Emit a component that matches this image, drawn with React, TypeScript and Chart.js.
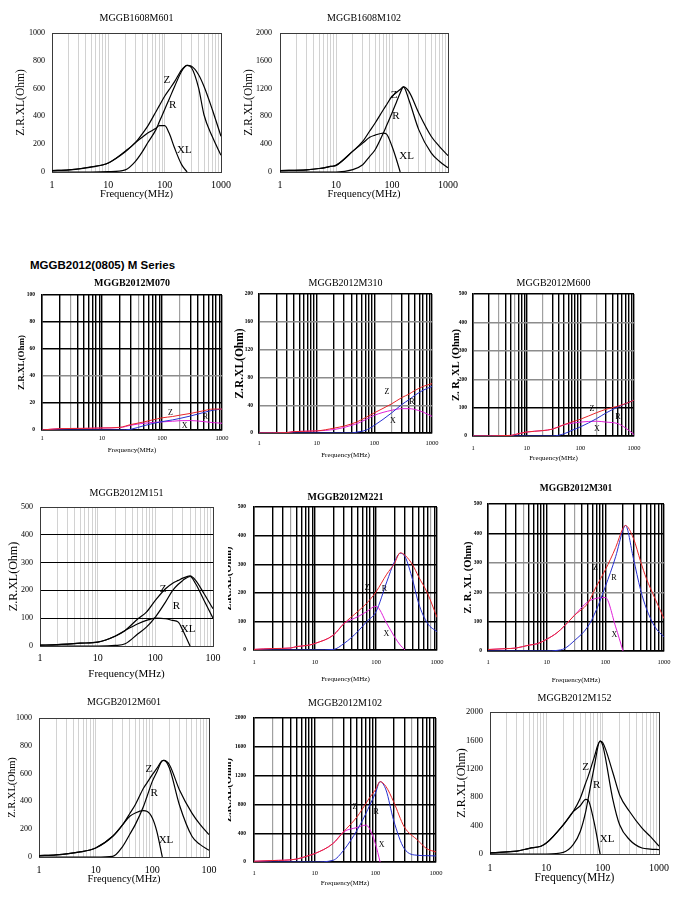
import React, { useEffect, useRef } from 'react';
import { Chart, registerables } from 'chart.js';

Chart.register(...registerables);

const SERIF = '"Liberation Serif", "Times New Roman", serif';
const SANS = '"Liberation Sans", Arial, sans-serif';

// ---------- shared axis values ----------
const X_GRID_VALUES = [1, 2, 3, 4, 5, 6, 7, 8, 9, 10, 20, 30, 40, 50, 60, 70, 80, 90, 100, 200, 300, 400, 500, 600, 700, 800, 900, 1000];
const X_DECADES = [1, 10, 100, 1000];
const X_LABELS = ['1', '10', '100', '1000'];
const X_LABELS_TRUNC = ['1', '10', '100', '100'];

// ---------- MGGB1608M601 ----------
const f_1608M601 = [1, 2, 5, 10, 20, 30, 40, 50, 70, 80, 100, 120, 150, 200, 250, 300, 400, 500, 700, 1000];
const z_1608M601 = [10, 15, 38, 65, 150, 210, 275, 330, 434, 476, 545, 592, 650, 735, 767, 760, 700, 615, 450, 257];
const r_1608M601 = [0, 0, 0, 2, 15, 75, 145, 210, 305, 359, 450, 524, 615, 725, 767, 750, 605, 410, 255, 120];
const xl_1608M601 = [10, 15, 35, 65, 145, 210, 250, 280, 315, 333, 333, 280, 172, 53, 0, null, null, null, null, null];
const y_1608M601 = [0, 200, 400, 600, 800, 1000];
const tag_1608M601: [string, number, number][] = [['Z', 109, 664], ['R', 139, 484], ['XL', 224, 156]];

// ---------- MGGB1608M102 ----------
const f_1608M102 = [1, 3, 5, 8, 10, 20, 30, 40, 50, 70, 80, 100, 120, 140, 160, 200, 300, 500, 700, 1000];
const z_1608M102 = [20, 30, 50, 80, 95, 300, 440, 590, 705, 895, 968, 1090, 1143, 1187, 1225, 1160, 850, 515, 370, 235];
const r_1608M102 = [0, 0, 0, 0, 0, 35, 105, 225, 320, 560, 668, 850, 1005, 1136, 1225, 1040, 610, 275, 155, 60];
const xl_1608M102 = [20, 30, 50, 80, 95, 300, 415, 500, 530, 560, 545, 370, 180, 0, null, null, null, null, null, null];
const y_1608M102 = [0, 400, 800, 1200, 1600, 2000];
const tag_1608M102: [string, number, number][] = [['Z', 109, 1113], ['R', 117, 801], ['XL', 182, 235]];

// ---------- MGGB2012M070 ----------
const f_M070 = [1, 2, 5, 10, 20, 30, 50, 70, 100, 150, 200, 300, 500, 700, 1000];
const z_M070 = [0, 1, 1.2, 1.5, 2, 4, 6, 7.5, 9, 10, 11, 12.3, 14.3, 15.5, 15.5];
const r_M070 = [0, 0, 0, 0, 0, 0.5, 3.2, 4.8, 6.2, 7.5, 8.6, 10.4, 13, 14.6, 15.5];
const xl_M070 = [0, 1, 1.2, 1.5, 1.8, 3.5, 5, 5.6, 6, 6.5, 6.9, 7, 6.2, 5.5, 5];
const y_M070 = [0, 20, 40, 60, 80, 100];
const tag_M070: [string, number, number][] = [['Z', 138, 12.3], ['X', 238, 3.2], ['R', 527, 9.4]];

// ---------- MGGB2012M310 ----------
const f_M310 = [1, 3, 4, 10, 20, 30, 40, 50, 70, 100, 200, 300, 400, 500, 700, 1000];
const z_M310 = [0, 0.5, 2, 3, 7, 10, 13, 16, 22, 29, 42, 51, 56, 61, 67, 71];
const r_M310 = [0, 0, 0, 0, 0, 0, 0, 1.4, 3.8, 11, 29, 41, 48, 54, 61.5, 67];
const xl_M310 = [0, 0.5, 2, 3, 5, 8, 11, 13.5, 19, 25.5, 32.7, 35, 35, 34, 30, 24];
const y_M310 = [0, 40, 80, 120, 160, 200];
const tag_M310: [string, number, number][] = [['Z', 165, 59], ['R', 450, 44.7], ['X', 210, 16.8]];

// ---------- MGGB2012M600 ----------
const f_M600 = [1, 5, 6, 10, 20, 30, 50, 70, 100, 200, 300, 500, 700, 1000];
const z_M600 = [0, 2, 5, 14, 19, 24, 40, 50, 59, 82, 94, 105, 114, 126];
const r_M600 = [0, 0, 0, 0, 0, 0, 8, 20, 32, 61, 81, 102, 114, 126];
const xl_M600 = [0, 2, 5, 14, 19, 24, 40, 45, 49, 52, 49, 43.5, 28, 5];
const y_M600 = [0, 100, 200, 300, 400, 500];
const tag_M600: [string, number, number][] = [['Z', 164, 96], ['R', 500, 67], ['X', 203, 23.5]];

// ---------- MGGB2012M151 ----------
const f_M151 = [1, 2, 3, 5, 10, 20, 30, 50, 70, 100, 150, 200, 250, 300, 400, 500, 700, 1000];
const z_M151 = [3, 5, 7, 10, 14, 35, 56, 98, 122, 164, 206, 226, 236, 244, 252, 236, 188, 134];
const r_M151 = [0, 0, 0, 0, 0, 2, 8, 44, 68, 104, 158, 200, 222, 236, 250, 224, 164, 100];
const xl_M151 = [3, 5, 7, 10, 14, 35, 56, 80, 92, 100, 98, 92, 86, 56, 0, null, null, null];
const y_M151 = [0, 100, 200, 300, 400, 500];
const tag_M151: [string, number, number][] = [['Z', 136, 203], ['R', 232, 144], ['XL', 370, 62]];

// ---------- MGGB2012M221 ----------
const f_M221 = [1, 2, 4, 5, 8, 10, 20, 30, 50, 70, 100, 150, 200, 250, 300, 400, 500, 700, 1000];
const z_M221 = [2, 5, 7, 12, 17, 23, 52, 93, 134, 163, 203, 265, 302, 340, 331, 297, 256, 198, 114];
const r_M221 = [0, 0, 0, 0, 0, 0, 2, 23, 64, 99, 134, 238, 308, 338, 326, 244, 163, 93, 64];
const xl_M221 = [2, 5, 7, 12, 17, 23, 52, 93, 116, 134, 153, 93, 47, 17, 0, null, null, null, null];
const y_M221 = [0, 100, 200, 300, 400, 500];
const tag_M221: [string, number, number][] = [['Z', 72, 217], ['R', 138, 215], ['X', 148, 56]];

// ---------- MGGB2012M301 ----------
const f_M301 = [1, 2, 3, 5, 7, 10, 15, 20, 30, 50, 70, 100, 150, 200, 220, 300, 400, 500, 700, 1000];
const z_M301 = [5, 8, 10, 20, 25, 40, 62, 85, 122, 162, 219, 276, 352, 418, 427, 384, 304, 247, 179, 110];
const r_M301 = [0, 0, 0, 0, 0, 0, 2, 8, 36, 82, 139, 219, 321, 412, 427, 316, 207, 145, 82, 48];
const xl_M301 = [5, 8, 10, 20, 25, 40, 62, 85, 122, 167, 179, 182, 82, 0, null, null, null, null, null, null];
const y_M301 = [0, 100, 200, 300, 400, 500];
const tag_M301: [string, number, number][] = [['Z', 68, 284], ['R', 140, 249], ['X', 143, 54]];

// ---------- MGGB2012M601 ----------
const f_M601 = [1, 2, 5, 10, 20, 30, 40, 50, 70, 80, 100, 120, 150, 160, 200, 300, 500, 700, 1000];
const z_M601 = [10, 15, 35, 65, 149, 233, 313, 376, 496, 532, 592, 637, 693, 695, 664, 484, 316, 233, 161];
const r_M601 = [0, 0, 0, 0, 5, 77, 164, 233, 365, 432, 544, 611, 693, 695, 640, 376, 149, 89, 48];
const xl_M601 = [10, 15, 35, 65, 149, 233, 293, 317, 333, 329, 281, 185, 0, null, null, null, null, null, null];
const y_M601 = [0, 200, 400, 600, 800, 1000];
const tag_M601: [string, number, number][] = [['Z', 87, 635], ['R', 108, 460], ['XL', 174, 125]];

// ---------- MGGB2012M102 ----------
const f_M102 = [1, 2, 5, 8, 10, 20, 30, 50, 70, 80, 100, 120, 150, 200, 300, 500, 700, 1000];
const z_M102 = [10, 20, 40, 90, 116, 256, 420, 628, 814, 890, 1000, 1116, 1047, 837, 488, 302, 186, 140];
const r_M102 = [0, 0, 0, 0, 0, 23, 163, 442, 674, 780, 953, 1116, 1000, 581, 186, 93, 88, 84];
const xl_M102 = [10, 20, 40, 90, 116, 256, 418, 479, 512, 465, 256, 0, null, null, null, null, null, null];
const y_M102 = [0, 400, 800, 1200, 1600, 2000];
const tag_M102: [string, number, number][] = [['Z', 46, 767], ['R', 103, 698], ['X', 127, 242]];

// ---------- MGGB2012M152 ----------
const f_M152 = [1, 2, 3, 5, 8, 10, 20, 30, 40, 50, 55, 70, 90, 100, 150, 200, 300, 500, 700, 1000];
const z_M152 = [15, 30, 40, 80, 110, 154, 411, 598, 785, 1000, 1090, 1350, 1589, 1570, 1159, 832, 598, 364, 248, 110];
const r_M152 = [0, 0, 0, 0, 0, 0, 23, 131, 318, 598, 770, 1206, 1589, 1533, 785, 411, 201, 84, 70, 61];
const xl_M152 = [15, 30, 40, 80, 110, 154, 411, 598, 680, 770, 760, 458, 0, null, null, null, null, null, null, null];
const y_M152 = [0, 400, 800, 1200, 1600, 2000];
const tag_M152: [string, number, number][] = [['Z', 50, 1229], ['R', 78, 972], ['XL', 120, 215]];

// ---------- styles ----------
type Fonts = {
  title: number; titleBold: boolean; yTick: number; yTickBold: boolean; xTick: number;
  yTitle: number; yTitleBold: boolean; xTitle: number; tag: number;
};
const MONO_FONTS: Fonts = { title: 10, titleBold: false, yTick: 8, yTickBold: false, xTick: 10, yTitle: 11.5, yTitleBold: false, xTitle: 10.5, tag: 11 };
const COLOR_FONTS: Fonts = { title: 10, titleBold: false, yTick: 5.5, yTickBold: true, xTick: 6.5, yTitle: 10.5, yTitleBold: true, xTitle: 7, tag: 8 };

type Spec = {
  title: string;
  box: [number, number, number, number];
  plot: [number, number, number, number];
  titleY: number; yTitleX: number; xTickY: number; xTitleY: number; yTickPad: number;
  colored: boolean;
  freq: number[]; z: (number | null)[]; r: (number | null)[]; xl: (number | null)[];
  yTicks: number[]; xLabels: string[]; tags: [string, number, number][];
  hLines: boolean; hGray: number[]; vGray: number[];
  yTitle: string; fonts: Fonts;
};

const SPECS: Spec[] = [
  { title: 'MGGB1608M601', box: [8, 6, 226, 200], plot: [52, 33, 221, 172], titleY: 18, yTitleX: 21, xTickY: 185, xTitleY: 194, yTickPad: 7,
    colored: false, freq: f_1608M601, z: z_1608M601, r: r_1608M601, xl: xl_1608M601, yTicks: y_1608M601, xLabels: X_LABELS, tags: tag_1608M601,
    hLines: false, hGray: [], vGray: [], yTitle: 'Z.R.XL(Ohm)', fonts: MONO_FONTS },
  { title: 'MGGB1608M102', box: [236, 6, 226, 200], plot: [280, 33, 448, 172], titleY: 18, yTitleX: 249, xTickY: 185, xTitleY: 194, yTickPad: 8,
    colored: false, freq: f_1608M102, z: z_1608M102, r: r_1608M102, xl: xl_1608M102, yTicks: y_1608M102, xLabels: X_LABELS, tags: tag_1608M102,
    hLines: false, hGray: [], vGray: [], yTitle: 'Z.R.XL(Ohm)', fonts: MONO_FONTS },
  { title: 'MGGB2012M070', box: [10, 272, 222, 188], plot: [42, 295, 222, 430], titleY: 283, yTitleX: 22, xTickY: 438, xTitleY: 450, yTickPad: 7,
    colored: true, freq: f_M070, z: z_M070, r: r_M070, xl: xl_M070, yTicks: y_M070, xLabels: X_LABELS, tags: tag_M070,
    hLines: true, hGray: [40], vGray: [3, 40, 200], yTitle: 'Z.R.XL(Ohm)', fonts: { ...COLOR_FONTS, yTitle: 9, titleBold: true } },
  { title: 'MGGB2012M310', box: [230, 272, 215, 192], plot: [259, 294, 432, 433], titleY: 283, yTitleX: 240, xTickY: 443, xTitleY: 455, yTickPad: 6,
    colored: true, freq: f_M310, z: z_M310, r: r_M310, xl: xl_M310, yTicks: y_M310, xLabels: X_LABELS, tags: tag_M310,
    hLines: true, hGray: [40, 80, 120, 160], vGray: [200], yTitle: 'Z.R.XL(Ohm)', fonts: { ...COLOR_FONTS, yTitle: 11.5 } },
  { title: 'MGGB2012M600', box: [447, 272, 201, 194], plot: [473, 294, 634, 436], titleY: 283, yTitleX: 456, xTickY: 448, xTitleY: 458, yTickPad: 6,
    colored: true, freq: f_M600, z: z_M600, r: r_M600, xl: xl_M600, yTicks: y_M600, xLabels: X_LABELS, tags: tag_M600,
    hLines: true, hGray: [200, 300, 400], vGray: [3, 6, 20, 200], yTitle: 'Z. R. XL (Ohm)', fonts: { ...COLOR_FONTS, yTitle: 10.5 } },
  { title: 'MGGB2012M151', box: [2, 482, 223, 204], plot: [40, 507, 213, 646], titleY: 493, yTitleX: 14, xTickY: 658, xTitleY: 674, yTickPad: 7,
    colored: false, freq: f_M151, z: z_M151, r: r_M151, xl: xl_M151, yTicks: y_M151, xLabels: X_LABELS_TRUNC, tags: tag_M151,
    hLines: true, hGray: [], vGray: [], yTitle: 'Z.R.XL(Ohm)', fonts: { ...MONO_FONTS, yTitle: 12, xTitle: 11 } },
  { title: 'MGGB2012M221', box: [228, 486, 222, 206], plot: [254, 507, 437, 650], titleY: 497, yTitleX: 228.5, xTickY: 662, xTitleY: 679, yTickPad: 8,
    colored: true, freq: f_M221, z: z_M221, r: r_M221, xl: xl_M221, yTicks: y_M221, xLabels: X_LABELS, tags: tag_M221,
    hLines: true, hGray: [], vGray: [4, 800], yTitle: 'Z.R.XL(Ohm)', fonts: { ...COLOR_FONTS, titleBold: true, title: 10 } },
  { title: 'MGGB2012M301', box: [455, 478, 221, 214], plot: [488, 504, 664, 651], titleY: 489, yTitleX: 468, xTickY: 662, xTitleY: 680, yTickPad: 6,
    colored: true, freq: f_M301, z: z_M301, r: r_M301, xl: xl_M301, yTicks: y_M301, xLabels: X_LABELS, tags: tag_M301,
    hLines: true, hGray: [200, 300], vGray: [4, 30], yTitle: 'Z. R. XL (Ohm)', fonts: { ...COLOR_FONTS, titleBold: true, title: 9.5 } },
  { title: 'MGGB2012M601', box: [2, 690, 220, 202], plot: [39, 718, 209, 857], titleY: 702, yTitleX: 12, xTickY: 870, xTitleY: 879, yTickPad: 7,
    colored: false, freq: f_M601, z: z_M601, r: r_M601, xl: xl_M601, yTicks: y_M601, xLabels: X_LABELS_TRUNC, tags: tag_M601,
    hLines: false, hGray: [], vGray: [], yTitle: 'Z.R.XL(Ohm)', fonts: { ...MONO_FONTS, yTitle: 10.5 } },
  { title: 'MGGB2012M102', box: [228, 692, 220, 203], plot: [254, 718, 436, 862], titleY: 703, yTitleX: 228.5, xTickY: 873, xTitleY: 883, yTickPad: 8,
    colored: true, freq: f_M102, z: z_M102, r: r_M102, xl: xl_M102, yTicks: y_M102, xLabels: X_LABELS, tags: tag_M102,
    hLines: true, hGray: [], vGray: [2, 20, 400], yTitle: 'Z.R.XL(Ohm)', fonts: COLOR_FONTS },
  { title: 'MGGB2012M152', box: [450, 686, 224, 204], plot: [490, 712, 659, 854], titleY: 698, yTitleX: 462, xTickY: 868, xTitleY: 878, yTickPad: 7,
    colored: false, freq: f_M152, z: z_M152, r: r_M152, xl: xl_M152, yTicks: y_M152, xLabels: X_LABELS, tags: tag_M152,
    hLines: false, hGray: [], vGray: [], yTitle: 'Z.R.XL(Ohm)', fonts: { ...MONO_FONTS, yTitle: 12, xTitle: 11.5, yTick: 8.5 } },
];

const lh = (n: number) => n * 1.2;

function FreqChart({ s }: { s: Spec }) {
  const ref = useRef<HTMLCanvasElement>(null);
  const [cl, ct, W, H] = s.box;
  useEffect(() => {
    if (!ref.current) return;
    const [L, T, R, B] = s.plot;
    const fs = s.fonts;
    const frame = s.colored ? '#000' : '#3a3a3a';
    const yMax = s.yTicks[s.yTicks.length - 1];
    const cols = s.colored ? ['#e8262a', '#2830d0', '#e020d8'] : ['#000', '#000', '#000'];
    const mk = (vals: (number | null)[], color: string) => ({
      data: s.freq.map((f, i) => ({ x: f, y: vals[i] })),
      borderColor: color,
      borderWidth: s.colored ? 1 : 1.2,
      pointRadius: 0,
      fill: false,
      cubicInterpolationMode: 'monotone' as const,
      spanGaps: false,
    });
    const tagPlugin = {
      id: 'curveTags',
      afterDatasetsDraw(chart: any) {
        const ctx = chart.ctx;
        const xs = chart.scales.x;
        const ys = chart.scales.y;
        ctx.save();
        ctx.fillStyle = '#000';
        ctx.font = `${fs.tag}px ${SERIF}`;
        ctx.textAlign = 'center';
        ctx.textBaseline = 'middle';
        for (const [t, x, y] of s.tags) ctx.fillText(t, xs.getPixelForValue(x), ys.getPixelForValue(y));
        ctx.restore();
      },
    };
    const chart = new Chart(ref.current, {
      type: 'line',
      data: { datasets: [mk(s.z, cols[0]), mk(s.r, cols[1]), mk(s.xl, cols[2])] as any },
      options: {
        responsive: false,
        animation: false,
        devicePixelRatio: 1,
        layout: { padding: { left: 0, top: 0, right: cl + W - R, bottom: 0 } },
        plugins: {
          legend: { display: false },
          tooltip: { enabled: false },
          title: {
            display: true,
            text: s.title,
            fullSize: false,
            color: '#000',
            font: { family: SERIF, size: fs.title, weight: fs.titleBold ? 'bold' : 'normal' },
            padding: { top: s.titleY - ct - lh(fs.title) / 2, bottom: T - s.titleY - lh(fs.title) / 2 },
          },
        },
        scales: {
          x: {
            type: 'logarithmic',
            min: 1,
            max: 1000,
            position: 'bottom',
            afterBuildTicks: (sc: any) => { sc.ticks = X_GRID_VALUES.map((v) => ({ value: v })); },
            afterFit: (sc: any) => { sc.height = ct + H - B; sc.paddingLeft = 0; sc.paddingRight = 0; },
            ticks: {
              autoSkip: false,
              maxRotation: 0,
              minRotation: 0,
              padding: s.xTickY - B - lh(fs.xTick) / 2,
              color: '#000',
              font: { family: SERIF, size: fs.xTick },
              callback: (v: any) => {
                const i = X_DECADES.indexOf(Number(v));
                return i >= 0 ? s.xLabels[i] : '';
              },
            },
            grid: {
              drawTicks: false,
              color: (c: any) => {
                const v = c.tick ? c.tick.value : 0;
                if (v === 1 || v === 1000) return frame;
                if (!s.colored) return '#d2d2d2';
                return s.vGray.includes(v) ? '#a0a0a0' : '#000';
              },
              lineWidth: (c: any) => {
                const v = c.tick ? c.tick.value : 0;
                if (!s.colored) return 1;
                if (v === 1 || v === 1000) return 1.4;
                return s.vGray.includes(v) ? 1.2 : 1.4;
              },
            },
            border: { display: true, color: frame, width: s.colored ? 1.4 : 1 },
            title: {
              display: true,
              text: 'Frequency(MHz)',
              color: '#000',
              font: { family: SERIF, size: fs.xTitle },
              padding: { top: 0, bottom: ct + H - s.xTitleY - lh(fs.xTitle) / 2 },
            },
          },
          y: {
            type: 'linear',
            min: 0,
            max: yMax,
            position: 'left',
            afterBuildTicks: (sc: any) => { sc.ticks = s.yTicks.map((v) => ({ value: v })); },
            afterFit: (sc: any) => { sc.width = L - cl; sc.paddingTop = 0; sc.paddingBottom = 0; },
            ticks: {
              padding: s.yTickPad,
              color: '#000',
              font: { family: SERIF, size: fs.yTick, weight: fs.yTickBold ? 'bold' : 'normal' },
              callback: (v: any) => String(v),
            },
            grid: {
              drawTicks: false,
              color: (c: any) => {
                const v = c.tick ? c.tick.value : 0;
                if (v === 0 || v === yMax) return frame;
                if (!s.hLines) return 'rgba(0,0,0,0)';
                return s.hGray.includes(v) ? '#8c8c8c' : '#000';
              },
              lineWidth: () => (s.colored ? 1.4 : 1),
            },
            border: { display: true, color: frame, width: s.colored ? 1.4 : 1 },
            title: {
              display: true,
              text: s.yTitle,
              color: '#000',
              font: { family: SERIF, size: fs.yTitle, weight: fs.yTitleBold ? 'bold' : 'normal' },
              padding: { top: s.yTitleX - cl - lh(fs.yTitle) / 2, bottom: 0 },
            },
          },
        },
      } as any,
      plugins: [tagPlugin],
    });
    return () => chart.destroy();
  }, [s]);
  return (
    <canvas
      ref={ref}
      width={W}
      height={H}
      style={{ position: 'absolute', left: cl, top: ct, width: W, height: H }}
    />
  );
}

export default function App() {
  return (
    <div style={{ position: 'absolute', left: 0, top: 0, width: 676, height: 923, background: '#fff', overflow: 'hidden' }}>
      <div
        style={{
          position: 'absolute', left: 30, top: 257, fontFamily: SANS, fontWeight: 'bold',
          fontSize: 11.5, lineHeight: '16px', color: '#000', whiteSpace: 'nowrap',
        }}
      >
        MGGB2012(0805) M Series
      </div>
      {SPECS.map((s) => (
        <FreqChart key={s.title} s={s} />
      ))}
    </div>
  );
}
